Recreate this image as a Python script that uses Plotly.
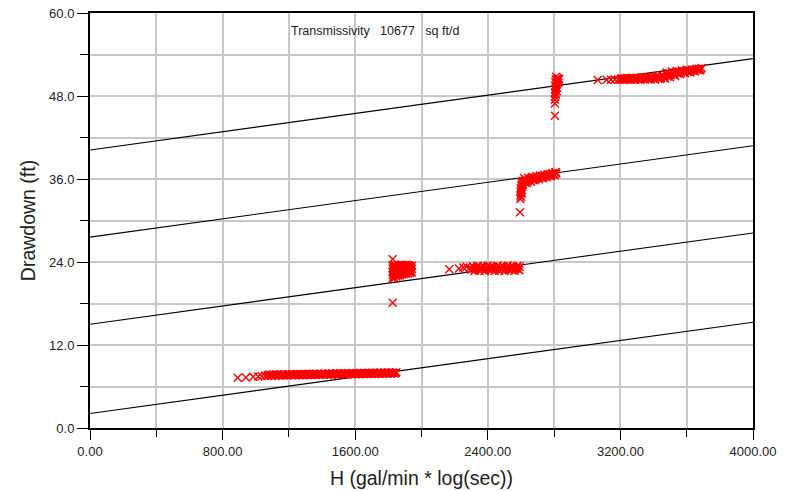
import plotly.graph_objects as go

# ---- fitted straight lines (drawdown at H=0 and at H=4000) ----
line_x = [0, 4000]
line_start = [2.1, 15.0, 27.6, 40.2]
line_end = [15.3, 28.2, 40.8, 53.4]

# ---- observed data (H, drawdown) per pumping step ----
step1 = [(891, 7.25), (940, 7.3), (985, 7.4), (1015, 7.45), (1036, 7.5), (1056, 7.55),
         (1070, 7.55), (1082, 7.72), (1094, 7.56), (1106, 7.74), (1118, 7.57), (1130, 7.75),
         (1142, 7.58), (1154, 7.76), (1166, 7.59), (1178, 7.77), (1190, 7.6), (1202, 7.78),
         (1214, 7.61), (1226, 7.79), (1238, 7.62), (1250, 7.80), (1262, 7.63), (1274, 7.81),
         (1286, 7.64), (1298, 7.82), (1310, 7.65), (1322, 7.83), (1334, 7.66), (1346, 7.84),
         (1358, 7.67), (1370, 7.85), (1382, 7.68), (1394, 7.86), (1406, 7.69), (1418, 7.87),
         (1430, 7.7), (1442, 7.88), (1454, 7.71), (1466, 7.89), (1478, 7.72), (1490, 7.9),
         (1502, 7.73), (1514, 7.91), (1526, 7.74), (1538, 7.92), (1550, 7.75), (1562, 7.93),
         (1574, 7.76), (1586, 7.94), (1598, 7.77), (1610, 7.95), (1622, 7.78), (1634, 7.96),
         (1646, 7.79), (1658, 7.97), (1670, 7.8), (1682, 7.98), (1694, 7.81), (1706, 7.99),
         (1718, 7.82), (1730, 8.0), (1742, 7.83), (1754, 8.01), (1766, 7.84), (1778, 8.02),
         (1790, 7.85), (1802, 8.03), (1814, 7.86), (1826, 8.04), (1838, 7.87), (1848, 8.05)]
step1_more = [(1076, 7.64), (1088, 7.65), (1100, 7.65), (1112, 7.66), (1124, 7.66), (1136, 7.67),
              (1148, 7.67), (1160, 7.68), (1172, 7.68), (1184, 7.69), (1196, 7.69), (1208, 7.70),
              (1220, 7.70), (1232, 7.71), (1244, 7.71), (1256, 7.72), (1268, 7.72), (1280, 7.73),
              (1292, 7.73), (1304, 7.74), (1316, 7.74), (1328, 7.75), (1340, 7.75), (1352, 7.76),
              (1364, 7.76), (1376, 7.77), (1388, 7.77), (1400, 7.78), (1412, 7.78), (1424, 7.79),
              (1436, 7.79), (1448, 7.8), (1460, 7.8), (1472, 7.81), (1484, 7.81), (1496, 7.82),
              (1508, 7.82), (1520, 7.83), (1532, 7.83), (1544, 7.84), (1556, 7.84), (1568, 7.85),
              (1580, 7.85), (1592, 7.86), (1604, 7.86), (1616, 7.87), (1628, 7.87), (1640, 7.88),
              (1652, 7.88), (1664, 7.89), (1676, 7.89), (1688, 7.9), (1700, 7.9), (1712, 7.91),
              (1724, 7.91), (1736, 7.92), (1748, 7.92), (1760, 7.93), (1772, 7.93), (1784, 7.94),
              (1796, 7.94), (1808, 7.95), (1820, 7.95), (1832, 7.96), (1844, 7.96)]

step2 = [(1826, 24.4), (1826, 18.1),
         (1826, 21.6), (1826, 22.1), (1826, 22.6), (1826, 23.1), (1826, 23.5),
         (1836, 21.7), (1836, 22.2), (1836, 22.7), (1836, 23.2), (1836, 23.6),
         (1848, 21.9), (1848, 22.4), (1848, 22.9), (1848, 23.4),
         (1860, 22.0), (1860, 22.5), (1860, 23.0), (1860, 23.5),
         (1872, 22.1), (1872, 22.6), (1872, 23.1), (1872, 23.55),
         (1884, 22.2), (1884, 22.7), (1884, 23.2), (1884, 23.6),
         (1896, 22.25), (1896, 22.75), (1896, 23.25), (1896, 23.55),
         (1908, 22.3), (1908, 22.8), (1908, 23.3), (1908, 23.6),
         (1920, 22.35), (1920, 22.85), (1920, 23.35), (1920, 23.55),
         (1932, 22.4), (1932, 22.9), (1932, 23.4),
         (1942, 22.5), (1942, 23.0), (1942, 23.45)]
step2_more = [(1831, 21.85), (1831, 22.35), (1831, 22.85), (1831, 23.35),
              (1842, 22.05), (1842, 22.55), (1842, 23.05), (1842, 23.5),
              (1854, 22.15), (1854, 22.65), (1854, 23.15),
              (1866, 22.25), (1866, 22.75), (1866, 23.25),
              (1878, 22.35), (1878, 22.85), (1878, 23.35),
              (1890, 22.45), (1890, 22.95), (1890, 23.4),
              (1902, 22.5), (1902, 23.0), (1902, 23.45),
              (1914, 22.55), (1914, 23.05), (1914, 23.45),
              (1926, 22.6), (1926, 23.1), (1926, 23.5),
              (1937, 22.65), (1937, 23.15)]

step3 = [(2168, 22.95), (2226, 23.05), (2252, 23.2), (2272, 23.3), (2290, 23.1),
         (2300, 22.9), (2310, 23.35), (2320, 22.7), (2330, 23.1), (2340, 23.45), (2350, 22.75),
         (2360, 23.2), (2370, 23.4), (2380, 22.7), (2390, 23.05), (2400, 23.5), (2410, 22.8),
         (2420, 23.15), (2430, 23.4), (2440, 22.7), (2450, 23.1), (2460, 23.45), (2470, 22.75),
         (2480, 23.2), (2490, 23.4), (2500, 22.7), (2510, 23.05), (2520, 23.5), (2530, 22.8),
         (2540, 23.15), (2550, 23.4), (2560, 22.7), (2570, 23.1), (2580, 23.45), (2590, 22.8),
         (2592, 23.3)]
step3_more = [(2305, 23.0), (2315, 23.25), (2325, 22.95), (2335, 23.3), (2345, 22.9), (2355, 23.25),
              (2365, 22.95), (2375, 23.3), (2385, 22.9), (2395, 23.25), (2405, 22.95), (2415, 23.3),
              (2425, 22.9), (2435, 23.25), (2445, 22.95), (2455, 23.3), (2465, 22.9), (2475, 23.25),
              (2485, 22.95), (2495, 23.3), (2505, 22.9), (2515, 23.25), (2525, 22.95), (2535, 23.3),
              (2545, 22.9), (2555, 23.25), (2565, 22.95), (2575, 23.3), (2585, 22.9)]

step4 = [(2594, 31.2), (2596, 33.1), (2597, 33.6), (2602, 33.9), (2598, 34.2), (2606, 34.4),
         (2600, 34.7), (2608, 34.9), (2603, 35.1), (2610, 35.3), (2605, 35.5),
         (2612, 35.2), (2620, 36.1), (2628, 35.7), (2636, 35.4), (2644, 36.2), (2652, 35.85),
         (2660, 35.6), (2668, 36.3), (2676, 36.0), (2684, 35.8), (2692, 36.4), (2700, 36.15),
         (2708, 35.95), (2716, 36.5), (2724, 36.25), (2732, 36.1), (2740, 36.6), (2748, 36.4),
         (2756, 36.25), (2764, 36.7), (2772, 36.5), (2780, 36.4), (2788, 36.85), (2796, 36.65),
         (2804, 36.55), (2810, 37.0), (2814, 36.8)]
step4_more = [(2600, 33.4), (2604, 34.0), (2601, 34.5), (2606, 35.0), (2612, 35.6),
              (2616, 35.7), (2624, 35.5), (2632, 35.9), (2640, 35.65), (2648, 36.05), (2656, 35.75),
              (2664, 36.1), (2672, 35.85), (2680, 36.2), (2688, 36.0), (2696, 36.3), (2704, 36.1),
              (2712, 36.35), (2720, 36.2), (2728, 36.45), (2736, 36.3), (2744, 36.55), (2752, 36.4),
              (2760, 36.6), (2768, 36.5), (2776, 36.7), (2784, 36.6), (2792, 36.8), (2800, 36.7),
              (2808, 36.9)]

step5 = [(2805, 45.15), (2805, 46.9), (2805, 47.45), (2807, 47.9), (2812, 48.2), (2806, 48.5),
         (2816, 48.7), (2808, 49.0), (2818, 49.2), (2806, 49.5), (2816, 49.7), (2808, 50.0),
         (2820, 50.1), (2810, 50.4), (2818, 50.6), (2826, 50.3), (2830, 50.5), (2826, 49.9),
         (2812, 50.8), (2810, 48.85), (2812, 49.35), (2814, 49.85), (2814, 50.25), (2822, 50.5),
         (2809, 48.3)]

step6 = [(3063, 50.3), (3117, 50.35), (3143, 50.35), (3167, 50.4), (3187, 50.35),
         (3200, 50.35), (3210, 50.55), (3220, 50.45), (3230, 50.35), (3240, 50.6), (3250, 50.45),
         (3260, 50.35), (3270, 50.6), (3280, 50.5), (3290, 50.35), (3300, 50.65), (3310, 50.5),
         (3320, 50.35), (3330, 50.7), (3340, 50.55), (3350, 50.4), (3360, 50.75), (3370, 50.6),
         (3380, 50.4), (3390, 50.8), (3400, 50.6), (3410, 50.4), (3420, 50.9), (3430, 50.65),
         (3440, 50.45), (3450, 51.0), (3460, 50.8), (3470, 50.5), (3480, 51.4), (3490, 51.0),
         (3500, 50.7), (3510, 51.5), (3520, 51.2), (3530, 50.9), (3540, 51.6), (3550, 51.4),
         (3560, 51.15), (3570, 51.7), (3580, 51.5), (3590, 51.3), (3600, 51.8), (3610, 51.6),
         (3620, 51.4), (3630, 51.85), (3640, 51.7), (3650, 51.55), (3660, 51.95), (3670, 51.8),
         (3680, 51.7), (3690, 52.05)]
step6_more = [(3205, 50.45), (3215, 50.4), (3225, 50.55), (3235, 50.45), (3245, 50.5), (3255, 50.55),
              (3265, 50.45), (3275, 50.55), (3285, 50.4), (3295, 50.55), (3305, 50.45), (3315, 50.6),
              (3325, 50.45), (3335, 50.6), (3345, 50.5), (3355, 50.65), (3365, 50.5), (3375, 50.7),
              (3385, 50.55), (3395, 50.7), (3405, 50.5), (3415, 50.75), (3425, 50.55), (3435, 50.8),
              (3445, 50.6), (3455, 50.9), (3465, 50.65), (3475, 51.2), (3485, 50.8), (3495, 51.3),
              (3505, 51.0), (3515, 51.35), (3525, 51.05), (3535, 51.45), (3545, 51.25), (3555, 51.55),
              (3565, 51.35), (3575, 51.6), (3585, 51.4), (3595, 51.65), (3605, 51.5), (3615, 51.7),
              (3625, 51.6), (3635, 51.8), (3645, 51.65), (3655, 51.85), (3665, 51.75), (3675, 51.95),
              (3685, 51.85)]

steps = [step1, step1_more, step2, step2_more, step3, step3_more,
         step4, step4_more, step5, step6, step6_more]

x_ticks = [0, 800, 1600, 2400, 3200, 4000]
y_ticks = [0, 12, 24, 36, 48, 60]

FONT = "Arial, 'Liberation Sans', sans-serif"
GRID = "#c8c8c8"
TXT = "#222222"

fig = go.Figure()

for s, e in zip(line_start, line_end):
    fig.add_trace(go.Scatter(x=line_x, y=[s, e], mode="lines",
                             line=dict(color="black", width=1.1),
                             showlegend=False, hoverinfo="skip"))

xs, ys = [], []
for st in steps:
    for px, py in st:
        xs.append(px)
        ys.append(py)

fig.add_trace(go.Scatter(x=xs, y=ys, mode="markers",
                         marker=dict(symbol="x-thin", size=8, color="red",
                                     line=dict(color="red", width=1.4)),
                         showlegend=False))

axis_common = dict(
    showline=True, linewidth=2, linecolor="black", mirror=True,
    ticks="outside", tickcolor="black", tickwidth=1.3,
    showgrid=True, gridcolor=GRID, gridwidth=1.5, zeroline=False,
    tickfont=dict(family=FONT, size=13, color=TXT),
    automargin=False,
)

fig.update_layout(
    width=786, height=491,
    margin=dict(l=90, r=33, t=13, b=63),
    paper_bgcolor="white", plot_bgcolor="white",
    font=dict(family=FONT, color=TXT),
    showlegend=False,
    xaxis=dict(range=[0, 4000], tickvals=x_ticks, tickformat=".2f", ticklen=10,
               title=dict(text="H (gal/min * log(sec))", font=dict(family=FONT, size=19.5, color=TXT),
                          standoff=14),
               minor=dict(dtick=400, tick0=0, ticks="outside", ticklen=7, tickcolor="black",
                          showgrid=True, gridcolor=GRID, gridwidth=1.5),
               **axis_common),
    yaxis=dict(range=[0, 60], tickvals=y_ticks, tickformat=".1f", ticklen=11,
               title=dict(text="Drawdown (ft)", font=dict(family=FONT, size=19.5, color=TXT),
                          standoff=8),
               minor=dict(dtick=6, tick0=0, ticks="outside", ticklen=8, tickcolor="black",
                          showgrid=True, gridcolor=GRID, gridwidth=1.5),
               **axis_common),
    annotations=[dict(
        text="Transmissivity\u00a0\u00a0\u00a010677\u00a0\u00a0\u00a0sq ft/d",
        xref="paper", yref="paper", x=0.3007, y=0.957, xanchor="left", yanchor="middle",
        showarrow=False, font=dict(family=FONT, size=12.5, color=TXT))],
)

fig.write_html("out.html", config={"displayModeBar": False})
